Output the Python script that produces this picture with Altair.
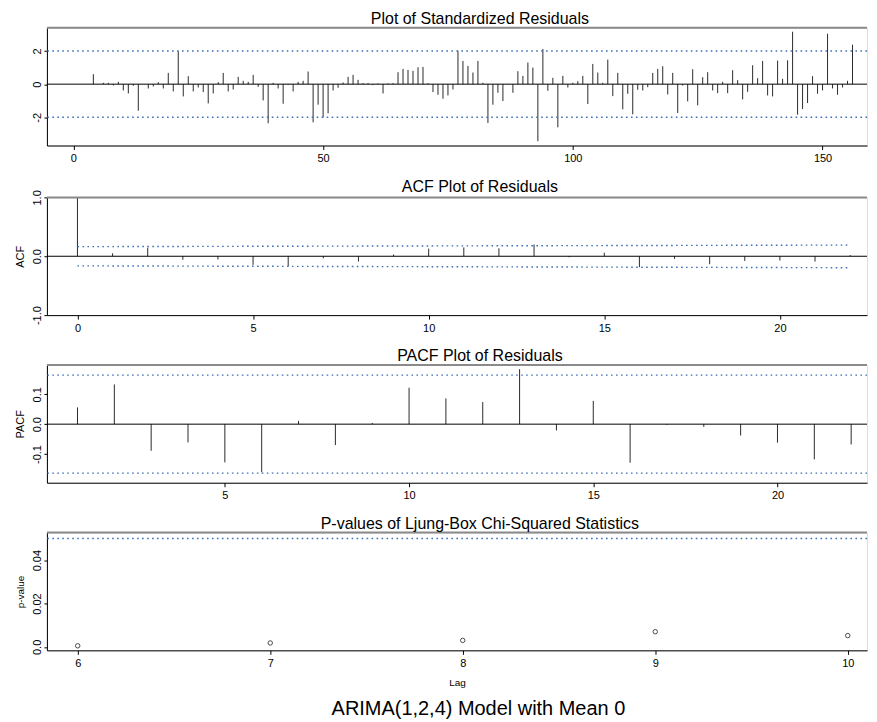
import altair as alt
import pandas as pd

# ---------------- values ----------------
resid_index = list(range(4, 157))
resid_values = [
    0.6, 0.0, 0.08, 0.08, -0.08, 0.14, -0.38, -0.56, -0.1, -1.6,
    0.0, -0.26, -0.14, 0.12, -0.26, 0.68, -0.44, 1.98, -0.74, 0.48,
    -0.44, -0.2, -0.48, -1.16, -0.56, 0.12, 0.68, -0.44, -0.32, 0.44,
    0.2, 0.14, 0.56, -0.16, -0.98, -2.36, 0.08, -0.26, -1.18, -0.04,
    -0.44, 0.14, 0.2, 0.76, -2.3, -1.24, -2.0, -1.76, -0.38, -0.22,
    0.1, 0.44, 0.56, 0.26, 0.06, 0.06, -0.06, 0.04, -0.56, 0.04,
    0.06, 0.72, 0.92, 0.86, 0.8, 1.02, 1.04, 0.06, -0.48, -0.64,
    -0.88, -0.68, -0.32, 2.02, 1.4, 1.1, 0.7, 1.4, 0.08, -2.34,
    -1.24, -0.52, -1.02, -0.02, -0.52, 0.78, 0.5, 1.3, 1.0, -3.44,
    2.12, -0.4, 0.38, -2.6, 0.5, -0.2, 0.08, 0.18, 0.5, -1.2,
    1.22, 0.7, 0.08, 1.48, -0.72, 0.68, -1.52, -0.58, -1.82, -0.34,
    -0.38, -0.18, 0.68, 0.92, 1.08, -0.62, 0.68, -1.74, -0.08, -1.04,
    0.9, -1.28, 0.42, 0.72, -0.38, -0.54, 0.14, -0.54, 0.84, 0.24,
    -0.92, -0.46, 1.14, 0.36, 1.4, -0.68, -0.74, 1.42, 0.32, 1.44,
    3.16, -1.84, -1.5, -1.14, 0.48, -0.58, -0.38, 3.04, -0.26, -0.64,
    -0.2, 0.2, 2.38,
]
resid_limits = [-2, 2]

acf_lags = list(range(0, 23))
acf_values = [1.0, 0.05, 0.146, -0.06, -0.055, -0.146, -0.17, -0.034, -0.09,
              0.03, 0.13, 0.15, 0.135, 0.2, -0.017, 0.06, -0.185, -0.045,
              -0.135, -0.08, -0.073, -0.09, 0.02]
acf_band_lags = [0, 22]
acf_band_upper = [0.163, 0.19]
acf_band_lower = [-0.163, -0.195]

pacf_lags = list(range(1, 23))
pacf_values = [0.056, 0.133, -0.089, -0.061, -0.128, -0.161, 0.011, -0.07,
               0.004, 0.122, 0.086, 0.074, 0.184, -0.021, 0.078, -0.129,
               -0.002, -0.009, -0.038, -0.062, -0.118, -0.068]
pacf_limits = [-0.164, 0.164]

lb_lags = [6, 7, 8, 9, 10]
lb_pvalues = [0.0005, 0.0018, 0.003, 0.007, 0.0052]
lb_level = [0.05]

# ---------------- styling ----------------
FONT = "Liberation Sans"
W, H = 822, 118
SPIKE = "#2a2a2a"
DOT = "#3f6fb5"
FRAME = "#8a8a8a"
DASH = [1.6, 3.4]


def x_axis(values, title=None, **kw):
    return alt.Axis(values=values, format="d", title=title, grid=False,
                    domainColor="#000", tickColor="#000", tickSize=4,
                    labelPadding=3, labelFont=FONT, labelFontSize=11,
                    labelColor="#000", labelFlush=False, labelOverlap=False,
                    titleFont=FONT, titleFontSize=10, titleFontWeight="normal",
                    titleColor="#000", **kw)


def y_axis(values, expr, title, show_title=True, title_size=11):
    return alt.Axis(values=values, labelExpr=expr, title=title,
                    titleOpacity=1 if show_title else 0, titleFont=FONT,
                    titleFontSize=title_size, titleFontWeight="normal",
                    titleColor="#000", titlePadding=4, labelAngle=270,
                    labelAlign="center", labelBaseline="bottom", labelPadding=1,
                    tickSize=3, minExtent=17, maxExtent=17, grid=False,
                    domainColor="#000", tickColor="#000", labelFont=FONT,
                    labelFontSize=11, labelColor="#000", labelFlush=False,
                    labelOverlap=False)


def panel_title(text, offset=0):
    return alt.TitleParams(text, font=FONT, fontSize=16, fontWeight="normal",
                           color="#000", offset=offset, dx=23, anchor="middle",
                           frame="group")


def frame_top():
    return alt.Chart(pd.DataFrame({"f": [0]})).mark_rule(
        color=FRAME, strokeWidth=2).encode(
        x=alt.value(0), x2=alt.value(W), y=alt.value(0))


def zero_line():
    return alt.Chart(pd.DataFrame({"f": [0]})).mark_rule(
        color="#000", strokeWidth=1).encode(y=alt.datum(0))


def level_lines(levels):
    return [alt.Chart(pd.DataFrame({"f": [0]})).mark_rule(
        color=DOT, strokeWidth=1.4, strokeDash=DASH).encode(y=alt.datum(v))
        for v in levels]


def signed(fmt):
    return ("datum.value < 0 ? '-' + format(-datum.value, '%s') : "
            "format(datum.value, '%s')") % (fmt, fmt)


# ---------------- panel 1: standardized residuals ----------------
xs1 = alt.Scale(domain=[-5.3, 158.9], nice=False, zero=False)
ys1 = alt.Scale(domain=[-3.7, 3.4], nice=False, zero=False)
xa1 = x_axis([0, 50, 100, 150])
ya1 = y_axis([-2, 0, 2], signed("d"), "r", show_title=False)
resid_df = pd.DataFrame({"t": resid_index, "r": resid_values})
spikes1 = alt.Chart(resid_df).mark_rule(color=SPIKE, strokeWidth=1).encode(
    x=alt.X("t:Q", scale=xs1, axis=xa1),
    y=alt.Y("r:Q", scale=ys1, axis=ya1),
    y2=alt.datum(0))
p1 = alt.layer(spikes1, zero_line(), *level_lines(resid_limits), frame_top()
               ).properties(width=W, height=H,
                            title=panel_title("Plot of Standardized Residuals", 0))

# ---------------- panel 2: ACF ----------------
xs2 = alt.Scale(domain=[-0.87, 22.48], nice=False, zero=False)
ys2 = alt.Scale(domain=[-1, 1], nice=False, zero=False)
xa2 = x_axis([0, 5, 10, 15, 20])
ya2 = y_axis([-1, -0.5, 0, 0.5, 1],
             "datum.value == -0.5 ? '' : (" + signed(".1f") + ")", "ACF")
acf_df = pd.DataFrame({"lag": acf_lags, "acf": acf_values})
band_df = pd.DataFrame({"lag": acf_band_lags, "upper": acf_band_upper,
                        "lower": acf_band_lower})
spikes2 = alt.Chart(acf_df).mark_rule(color=SPIKE, strokeWidth=1).encode(
    x=alt.X("lag:Q", scale=xs2, axis=xa2),
    y=alt.Y("acf:Q", scale=ys2, axis=ya2),
    y2=alt.datum(0))
band_up = alt.Chart(band_df).mark_line(color=DOT, strokeWidth=1.4,
                                       strokeDash=DASH).encode(
    x=alt.X("lag:Q", scale=xs2, axis=xa2),
    y=alt.Y("upper:Q", scale=ys2, axis=ya2))
band_lo = alt.Chart(band_df).mark_line(color=DOT, strokeWidth=1.4,
                                       strokeDash=DASH).encode(
    x=alt.X("lag:Q", scale=xs2, axis=xa2),
    y=alt.Y("lower:Q", scale=ys2, axis=ya2))
p2 = alt.layer(spikes2, zero_line(), band_up, band_lo, frame_top()
               ).properties(width=W, height=H,
                            title=panel_title("ACF Plot of Residuals", -5))

# ---------------- panel 3: PACF ----------------
xs3 = alt.Scale(domain=[0.17, 22.43], nice=False, zero=False)
ys3 = alt.Scale(domain=[-0.196, 0.198], nice=False, zero=False)
xa3 = x_axis([5, 10, 15, 20])
ya3 = y_axis([-0.1, 0, 0.1], signed(".1f"), "PACF")
pacf_df = pd.DataFrame({"lag": pacf_lags, "pacf": pacf_values})
spikes3 = alt.Chart(pacf_df).mark_rule(color=SPIKE, strokeWidth=1).encode(
    x=alt.X("lag:Q", scale=xs3, axis=xa3),
    y=alt.Y("pacf:Q", scale=ys3, axis=ya3),
    y2=alt.datum(0))
p3 = alt.layer(spikes3, zero_line(), *level_lines(pacf_limits), frame_top()
               ).properties(width=W, height=H,
                            title=panel_title("PACF Plot of Residuals", 0))

# ---------------- panel 4: Ljung-Box p-values ----------------
xs4 = alt.Scale(domain=[5.84, 10.10], nice=False, zero=False)
ys4 = alt.Scale(domain=[-0.0016, 0.0527], nice=False, zero=False)
xa4 = x_axis([6, 7, 8, 9, 10], title="Lag", titlePadding=9)
ya4 = y_axis([0, 0.01, 0.02, 0.03, 0.04],
             "datum.value == 0 ? '0.0' : ((datum.value == 0.02 || datum.value == 0.04) ? format(datum.value, '.2f') : '')",
             "p-value", title_size=10)
lb_df = pd.DataFrame({"lag": lb_lags, "p": lb_pvalues})
pts4 = alt.Chart(lb_df).mark_point(shape="circle", filled=False, size=20,
                                   color="#000", strokeWidth=1).encode(
    x=alt.X("lag:Q", scale=xs4, axis=xa4),
    y=alt.Y("p:Q", scale=ys4, axis=ya4))
p4 = alt.layer(pts4, *level_lines(lb_level), frame_top()
               ).properties(width=W, height=H,
                            title=panel_title("P-values of Ljung-Box Chi-Squared Statistics", 0))

chart = alt.vconcat(p1, p2, p3, p4, spacing=13).properties(
    title=alt.TitleParams("ARIMA(1,2,4) Model with Mean 0", orient="bottom",
                          font=FONT, fontSize=20, fontWeight="normal",
                          color="#000", offset=11, anchor="middle", dx=37),
    padding={"left": 6, "top": 1, "right": 0, "bottom": 0},
).configure_view(stroke=None).configure(background="white")

chart.save("out.html", embed_options={"renderer": "svg", "actions": False})
